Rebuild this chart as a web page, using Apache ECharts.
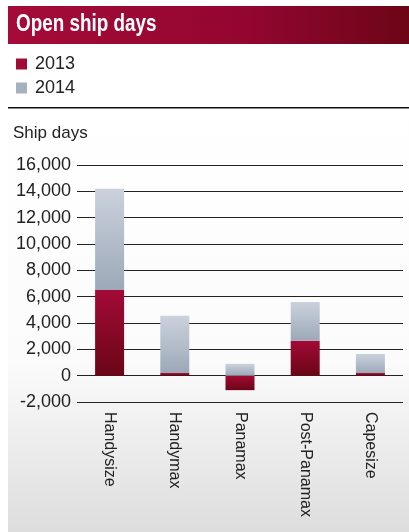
<!DOCTYPE html>
<html><head><meta charset="utf-8">
<script src="https://cdn.jsdelivr.net/npm/echarts@6/dist/echarts.min.js"></script>
<style>html,body{margin:0;padding:0;background:#fff}#c{width:409px;height:532px}</style>
</head><body><div id="c"></div>
<script>
const categories = ['Handysize', 'Handymax', 'Panamax', 'Post-Panamax', 'Capesize'];
const values2013 = [6500, 200, -1100, 2650, 200];
const values2014 = [7700, 4350, 900, 2950, 1450];
const yTicks = { min: -2000, max: 16000, interval: 2000 };

const FONT = 'Liberation Sans';
const chart = echarts.init(document.getElementById('c'));
chart.setOption({
  animation: false,
  textStyle: { fontFamily: FONT },
  graphic: [
    { type: 'rect', z: -10, shape: { x: 8, y: 108, width: 401, height: 424 },
      style: { fill: new echarts.graphic.LinearGradient(0, 0, 0, 1, [
        { offset: 0, color: '#ffffff' }, { offset: 0.6, color: '#fbfbfb' }, { offset: 1, color: '#dddddd' }]) } },
    { type: 'rect', shape: { x: 8, y: 6, width: 401, height: 38 },
      style: { fill: new echarts.graphic.LinearGradient(0, 0, 1, 0, [
        { offset: 0, color: '#a50b38' }, { offset: 0.6, color: '#920630' }, { offset: 1, color: '#6c0516' }]) } },
    { type: 'text', x: 16, y: 25, scaleX: 0.82, style: { text: 'Open ship days', fill: '#fff', font: 'bold 23px "Liberation Sans"', verticalAlign: 'middle' } },
    { type: 'rect', shape: { x: 8, y: 107, width: 401, height: 1.5 }, style: { fill: '#111' } },
    { type: 'text', x: 13, y: 133, style: { text: 'Ship days', fill: '#222', font: '17px "Liberation Sans"', verticalAlign: 'middle' } }
  ],
  legend: {
    left: 11, top: 50, orient: 'vertical', itemGap: 6, itemWidth: 11, itemHeight: 11,
    icon: 'rect', textStyle: { fontSize: 18, color: '#222', fontFamily: FONT, padding: [0, 0, 0, 3] },
    data: [
      { name: '2013', itemStyle: { color: '#a10a36' } },
      { name: '2014', itemStyle: { color: '#a6b0be' } }
    ]
  },
  grid: { left: 77, right: 6, top: 165, bottom: 130 },
  xAxis: {
    type: 'category', data: categories,
    axisLine: { show: false }, axisTick: { show: false },
    axisLabel: { rotate: -90, margin: 10, fontSize: 16, color: '#222', fontFamily: FONT }
  },
  yAxis: {
    type: 'value', min: yTicks.min, max: yTicks.max, interval: yTicks.interval,
    axisLine: { show: false }, axisTick: { show: false },
    axisLabel: { fontSize: 18, color: '#222', margin: 6, fontFamily: FONT,
      formatter: v => v.toLocaleString('en-US') },
    splitLine: { lineStyle: { color: '#222', width: 1 } }
  },
  series: [
    { name: '2013', type: 'bar', stack: 'a', barWidth: 29, data: values2013,
      itemStyle: { color: new echarts.graphic.LinearGradient(0, 0, 0, 1, [
        { offset: 0, color: '#a30a36' }, { offset: 1, color: '#6a0617' }]) } },
    { name: '2014', type: 'bar', stack: 'a', barWidth: 29, data: values2014,
      itemStyle: { color: new echarts.graphic.LinearGradient(0, 0, 0, 1, [
        { offset: 0, color: '#cbd2dd' }, { offset: 1, color: '#9ca8b8' }]) } }
  ]
});
</script></body></html>
